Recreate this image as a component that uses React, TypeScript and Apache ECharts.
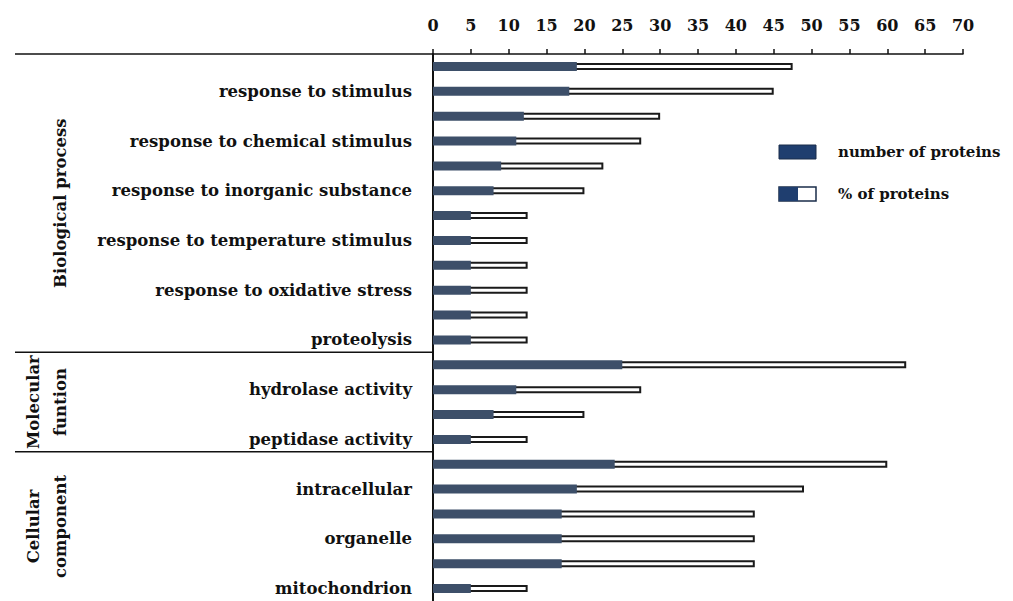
import React, { useEffect, useRef } from "react";
import * as echarts from "echarts";

// GO terms, top to bottom (only every second row carries a printed name)
const categories = [
  "", "response to stimulus",
  "", "response to chemical stimulus",
  "", "response to inorganic substance",
  "", "response to temperature stimulus",
  "", "response to oxidative stress",
  "", "proteolysis",
  "", "hydrolase activity",
  "", "peptidase activity",
  "", "intracellular",
  "", "organelle",
  "", "mitochondrion",
];

const proteinCounts = [19, 18, 12, 11, 9, 8, 5, 5, 5, 5, 5, 5, 25, 11, 8, 5, 24, 19, 17, 17, 17, 5];
const proteinPercents = [47.5, 45, 30, 27.5, 22.5, 20, 12.5, 12.5, 12.5, 12.5, 12.5, 12.5, 62.5, 27.5, 20, 12.5, 60, 49, 42.5, 42.5, 42.5, 12.5];

const xMin = 0;
const xMax = 70;
const xStep = 5;

// GO domains: title and the [start, end) row range they cover
const groupTitles = ["Biological process", "Molecular\nfuntion", "Cellular\ncomponent"];
const groupStarts = [0, 12, 16];
const groupEnds = [12, 16, 22];

const legendNames = ["number of proteins", "% of proteins"];

const BAR_DARK = "#3d4f69";
const LEGEND_BLUE = "#1f3e6f";
const INK = "#111111";
const FONT = "DejaVu Serif";

export default function App() {
  const ref = useRef<HTMLDivElement>(null);

  useEffect(() => {
    if (!ref.current) return;
    const chart = echarts.init(ref.current, undefined, { renderer: "svg" });

    const gridTop = 54;
    const rowH = 24.9;

    chart.setOption({
      animation: false,
      backgroundColor: "#ffffff",
      grid: { left: 433, top: gridTop, width: 530, height: rowH * categories.length },
      xAxis: {
        type: "value",
        position: "top",
        min: xMin,
        max: xMax,
        interval: xStep,
        axisLine: { show: true, lineStyle: { color: INK, width: 1.5 } },
        axisTick: { show: true, length: 5, lineStyle: { color: INK, width: 1.5 } },
        splitLine: { show: false },
        axisLabel: {
          margin: 21,
          color: INK,
          fontFamily: FONT,
          fontWeight: "bold",
          fontSize: 16,
        },
      },
      yAxis: [
        {
          type: "category",
          data: categories,
          inverse: true,
          axisLine: { show: true, lineStyle: { color: INK, width: 2 } },
          axisTick: { show: false },
          axisLabel: {
            interval: 0,
            margin: 21,
            color: INK,
            fontFamily: FONT,
            fontWeight: "bold",
            fontSize: 16.5,
          },
        },
        {
          type: "category",
          data: categories,
          inverse: true,
          show: false,
        },
      ],
      series: [
        {
          name: legendNames[1],
          type: "bar",
          yAxisIndex: 0,
          data: proteinPercents,
          barWidth: 7,
          itemStyle: { color: "#ffffff", borderColor: "#1a1a1a", borderWidth: 2 },
        },
        {
          name: legendNames[0],
          type: "bar",
          yAxisIndex: 1,
          data: proteinCounts,
          barWidth: 9,
          itemStyle: { color: BAR_DARK },
        },
      ],
    });

    // domain separators and rotated domain titles, placed on the category scale
    const rowCenter = (i: number) => chart.convertToPixel({ yAxisIndex: 0 }, i) as number;
    const band = rowCenter(1) - rowCenter(0);
    const axisX = chart.convertToPixel({ xAxisIndex: 0 }, 0) as number;

    const elements: any[] = [];
    groupTitles.forEach((title, g) => {
      const yTop = rowCenter(groupStarts[g]) - band / 2;
      const yBottom = rowCenter(groupEnds[g] - 1) + band / 2;
      elements.push({
        type: "line",
        shape: { x1: 15, y1: yTop, x2: axisX, y2: yTop },
        style: { stroke: INK, lineWidth: 1.5 },
      });
      const twoLines = title.indexOf("\n") >= 0;
      elements.push({
        type: "text",
        x: twoLines ? 47 : 60,
        y: (yTop + Math.min(yBottom, 601)) / 2,
        rotation: Math.PI / 2,
        style: {
          text: title,
          fill: INK,
          font: `bold 16.5px "${FONT}"`,
          align: "center",
          verticalAlign: "middle",
          lineHeight: 27,
        },
      });
    });

    // legend swatches
    elements.push(
      { type: "rect", shape: { x: 779, y: 145, width: 37, height: 14 }, style: { fill: LEGEND_BLUE, stroke: "#1a2c4a", lineWidth: 1 } },
      { type: "rect", shape: { x: 779, y: 187, width: 37, height: 14 }, style: { fill: "#ffffff", stroke: "#1a2c4a", lineWidth: 1.5 } },
      { type: "rect", shape: { x: 779, y: 187, width: 19, height: 14 }, style: { fill: LEGEND_BLUE } },
      { type: "text", x: 838, y: 152, style: { text: legendNames[0], fill: INK, font: `bold 15px "${FONT}"`, verticalAlign: "middle" } },
      { type: "text", x: 838, y: 194, style: { text: legendNames[1], fill: INK, font: `bold 15px "${FONT}"`, verticalAlign: "middle" } }
    );

    chart.setOption({ graphic: elements });

    return () => chart.dispose();
  }, []);

  return (
    <div
      ref={ref}
      style={{ position: "fixed", left: 0, top: 0, width: 1013, height: 601, overflow: "hidden", background: "#fff" }}
    />
  );
}
